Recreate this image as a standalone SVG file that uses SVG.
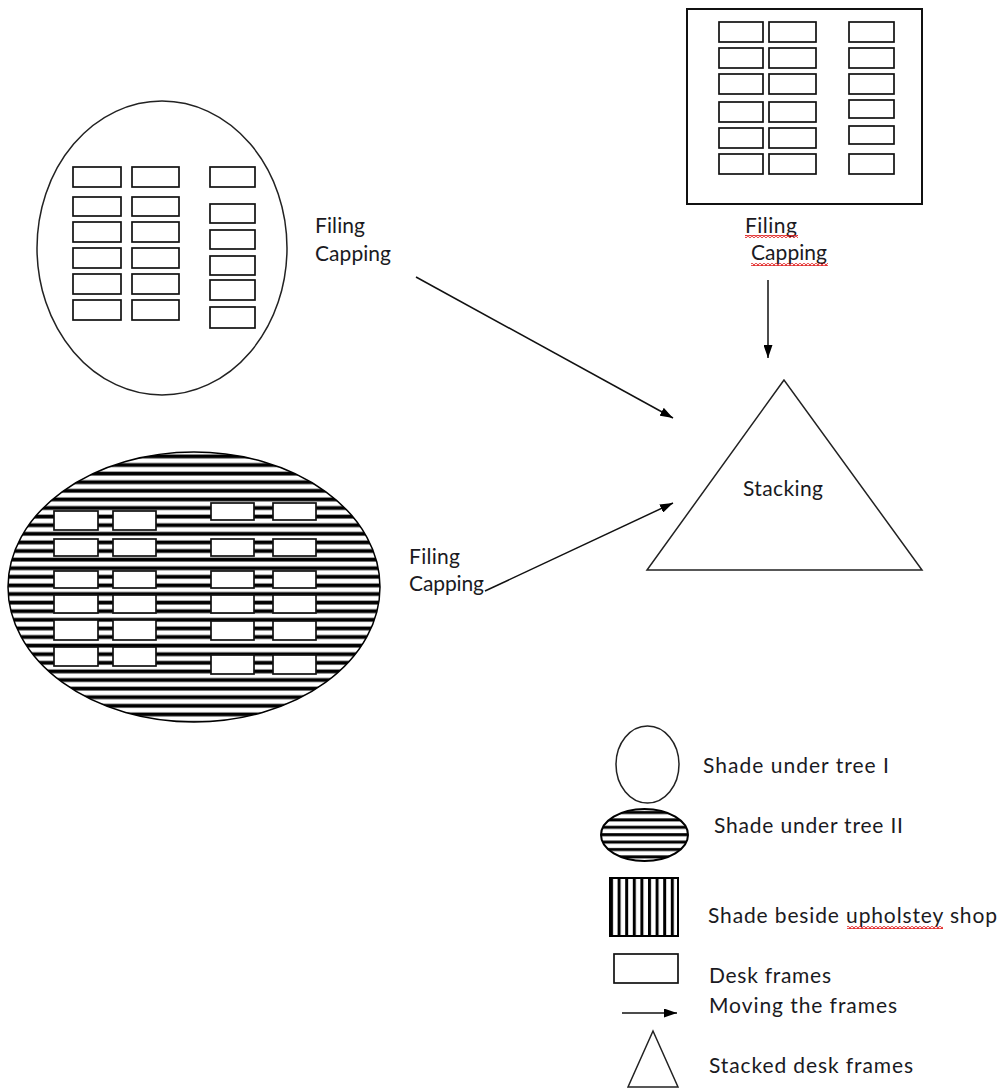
<svg xmlns="http://www.w3.org/2000/svg" width="1002" height="1088" viewBox="0 0 1002 1088">
<defs>
<style>
.txt{font-family:Lato,"Open Sans","Liberation Sans",sans-serif;font-size:21px;fill:#1a1a22}
.frame{fill:#fff;stroke:#111;stroke-width:1.7}
.outline{fill:#fff;stroke:#222;stroke-width:1.5}
.conn{stroke:#111;stroke-width:1.5;fill:none;marker-end:url(#arrow)}
.wavy{fill:url(#wave)}
</style>
<pattern id="hstripe" patternUnits="userSpaceOnUse" x="0" y="452" width="10" height="8.6">
<rect x="0" y="0" width="10" height="8.6" fill="#fff"/>
<rect x="0" y="2.5" width="10" height="3.8" fill="#000"/>
</pattern>
<pattern id="hstripe2" patternUnits="userSpaceOnUse" x="0" y="809" width="10" height="7.4">
<rect x="0" y="0" width="10" height="7.4" fill="#fff"/>
<rect x="0" y="2" width="10" height="3" fill="#000"/>
</pattern>
<pattern id="vstripe" patternUnits="userSpaceOnUse" x="610" y="0" width="7.6" height="10">
<rect x="0" y="0" width="7.6" height="10" fill="#fff"/>
<rect x="0" y="0" width="3" height="10" fill="#000"/>
</pattern>
<pattern id="wave" patternUnits="userSpaceOnUse" x="0" y="0" width="4" height="3">
<path d="M0 2.5 L2 0.5 L4 2.5" fill="none" stroke="#e01818" stroke-width="1.2"/>
</pattern>
<marker id="arrow" viewBox="0 0 13 9" refX="13" refY="4.5" markerWidth="13" markerHeight="9" markerUnits="userSpaceOnUse" orient="auto">
<path d="M0 0 L13 4.5 L0 9 Z" fill="#000"/>
</marker>
</defs>
<rect width="1002" height="1088" fill="#fff"/>

<g id="shade-tree-1">
<ellipse cx="162" cy="248" rx="125" ry="147" class="outline"/>
<rect class="frame" x="73" y="167" width="48" height="20"/>
<rect class="frame" x="73" y="197" width="48" height="19"/>
<rect class="frame" x="73" y="222" width="48" height="20"/>
<rect class="frame" x="73" y="248" width="48" height="20"/>
<rect class="frame" x="73" y="274" width="48" height="20"/>
<rect class="frame" x="73" y="300" width="48" height="20"/>
<rect class="frame" x="132" y="167" width="47" height="20"/>
<rect class="frame" x="132" y="197" width="47" height="19"/>
<rect class="frame" x="132" y="222" width="47" height="20"/>
<rect class="frame" x="132" y="248" width="47" height="20"/>
<rect class="frame" x="132" y="274" width="47" height="20"/>
<rect class="frame" x="132" y="300" width="47" height="20"/>
<rect class="frame" x="210" y="167" width="45" height="20"/>
<rect class="frame" x="210" y="204" width="45" height="19"/>
<rect class="frame" x="210" y="230" width="45" height="19"/>
<rect class="frame" x="210" y="256" width="45" height="19"/>
<rect class="frame" x="210" y="280" width="45" height="20"/>
<rect class="frame" x="210" y="307" width="45" height="21"/>
</g>

<g id="label-left-top">
<text class="txt" x="315" y="233" textLength="50" lengthAdjust="spacing">Filing</text>
<text class="txt" x="315" y="261" textLength="76" lengthAdjust="spacing">Capping</text>
</g>

<g id="shade-tree-2">
<ellipse cx="194" cy="587" rx="186" ry="135" fill="url(#hstripe)" stroke="#000" stroke-width="1.5"/>
<rect class="frame" x="54" y="511" width="44" height="19"/>
<rect class="frame" x="54" y="539" width="44" height="17"/>
<rect class="frame" x="54" y="571" width="44" height="17"/>
<rect class="frame" x="54" y="595" width="44" height="18"/>
<rect class="frame" x="54" y="620" width="44" height="20"/>
<rect class="frame" x="54" y="647" width="44" height="19"/>
<rect class="frame" x="113" y="511" width="43" height="19"/>
<rect class="frame" x="113" y="539" width="43" height="17"/>
<rect class="frame" x="113" y="571" width="43" height="17"/>
<rect class="frame" x="113" y="595" width="43" height="18"/>
<rect class="frame" x="113" y="620" width="43" height="20"/>
<rect class="frame" x="113" y="647" width="43" height="19"/>
<rect class="frame" x="211" y="503" width="43" height="17"/>
<rect class="frame" x="211" y="539" width="43" height="17"/>
<rect class="frame" x="211" y="571" width="43" height="17"/>
<rect class="frame" x="211" y="595" width="43" height="18"/>
<rect class="frame" x="211" y="621" width="43" height="19"/>
<rect class="frame" x="211" y="655" width="43" height="19"/>
<rect class="frame" x="273" y="503" width="43" height="17"/>
<rect class="frame" x="273" y="539" width="43" height="17"/>
<rect class="frame" x="273" y="571" width="43" height="17"/>
<rect class="frame" x="273" y="595" width="43" height="18"/>
<rect class="frame" x="273" y="621" width="43" height="19"/>
<rect class="frame" x="273" y="655" width="43" height="19"/>
</g>

<g id="label-left-bottom">
<text class="txt" x="409" y="564" textLength="51" lengthAdjust="spacing">Filing</text>
<text class="txt" x="409" y="591" textLength="75" lengthAdjust="spacing">Capping</text>
</g>

<g id="shade-upholstery">
<rect x="687" y="9" width="235" height="195" fill="#fff" stroke="#111" stroke-width="2"/>
<rect class="frame" x="719" y="22" width="44" height="20"/>
<rect class="frame" x="719" y="48" width="44" height="20"/>
<rect class="frame" x="719" y="74" width="44" height="20"/>
<rect class="frame" x="719" y="102" width="44" height="20"/>
<rect class="frame" x="719" y="128" width="44" height="20"/>
<rect class="frame" x="719" y="154" width="44" height="20"/>
<rect class="frame" x="769" y="22" width="47" height="20"/>
<rect class="frame" x="769" y="48" width="47" height="20"/>
<rect class="frame" x="769" y="74" width="47" height="20"/>
<rect class="frame" x="769" y="102" width="47" height="20"/>
<rect class="frame" x="769" y="128" width="47" height="20"/>
<rect class="frame" x="769" y="154" width="47" height="20"/>
<rect class="frame" x="849" y="22" width="45" height="20"/>
<rect class="frame" x="849" y="48" width="45" height="20"/>
<rect class="frame" x="849" y="74" width="45" height="20"/>
<rect class="frame" x="849" y="100" width="45" height="18"/>
<rect class="frame" x="849" y="126" width="45" height="18"/>
<rect class="frame" x="849" y="154" width="45" height="20"/>
</g>

<g id="label-top-right">
<text class="txt" x="745" y="233" textLength="52" lengthAdjust="spacing">Filing</text>
<rect class="wavy" x="745" y="235" width="53" height="3"/>
<text class="txt" x="751" y="260" textLength="76" lengthAdjust="spacing">Capping</text>
<rect class="wavy" x="751" y="263" width="77" height="3"/>
</g>

<g id="stacking">
<polygon points="784,380 647,570 922,570" class="outline"/>
<text class="txt" x="743" y="496" textLength="80" lengthAdjust="spacing">Stacking</text>
</g>

<g id="connectors">
<line class="conn" x1="416" y1="277" x2="673" y2="418"/>
<line class="conn" x1="485" y1="591" x2="673" y2="503"/>
<line class="conn" x1="768" y1="280" x2="768" y2="358"/>
</g>

<g id="legend">
<g id="legend-tree-1">
<ellipse cx="647.5" cy="764.5" rx="31.5" ry="38.5" class="outline"/>
<text class="txt" x="703" y="773" textLength="186" lengthAdjust="spacing">Shade under tree I</text>
</g>
<g id="legend-tree-2">
<ellipse cx="644.5" cy="835" rx="43.5" ry="26" fill="url(#hstripe2)" stroke="#000" stroke-width="2"/>
<text class="txt" x="714" y="833" textLength="189" lengthAdjust="spacing">Shade under tree II</text>
</g>
<g id="legend-upholstery">
<rect x="610" y="878" width="68" height="58" fill="url(#vstripe)" stroke="#000" stroke-width="2"/>
<text class="txt" x="708" y="923" textLength="289" lengthAdjust="spacing">Shade beside upholstey shop</text>
<rect class="wavy" x="847" y="926" width="96" height="3"/>
</g>
<g id="legend-desk">
<rect class="frame" x="614" y="954" width="64" height="29"/>
<text class="txt" x="709" y="983" textLength="122" lengthAdjust="spacing">Desk frames</text>
</g>
<g id="legend-moving">
<line class="conn" x1="622" y1="1013" x2="677" y2="1013"/>
<text class="txt" x="709" y="1013" textLength="188" lengthAdjust="spacing">Moving the frames</text>
</g>
<g id="legend-stacked">
<polygon points="653,1031 628,1087 678,1087" class="outline"/>
<text class="txt" x="709" y="1073" textLength="204" lengthAdjust="spacing">Stacked desk frames</text>
</g>
</g>
</svg>
